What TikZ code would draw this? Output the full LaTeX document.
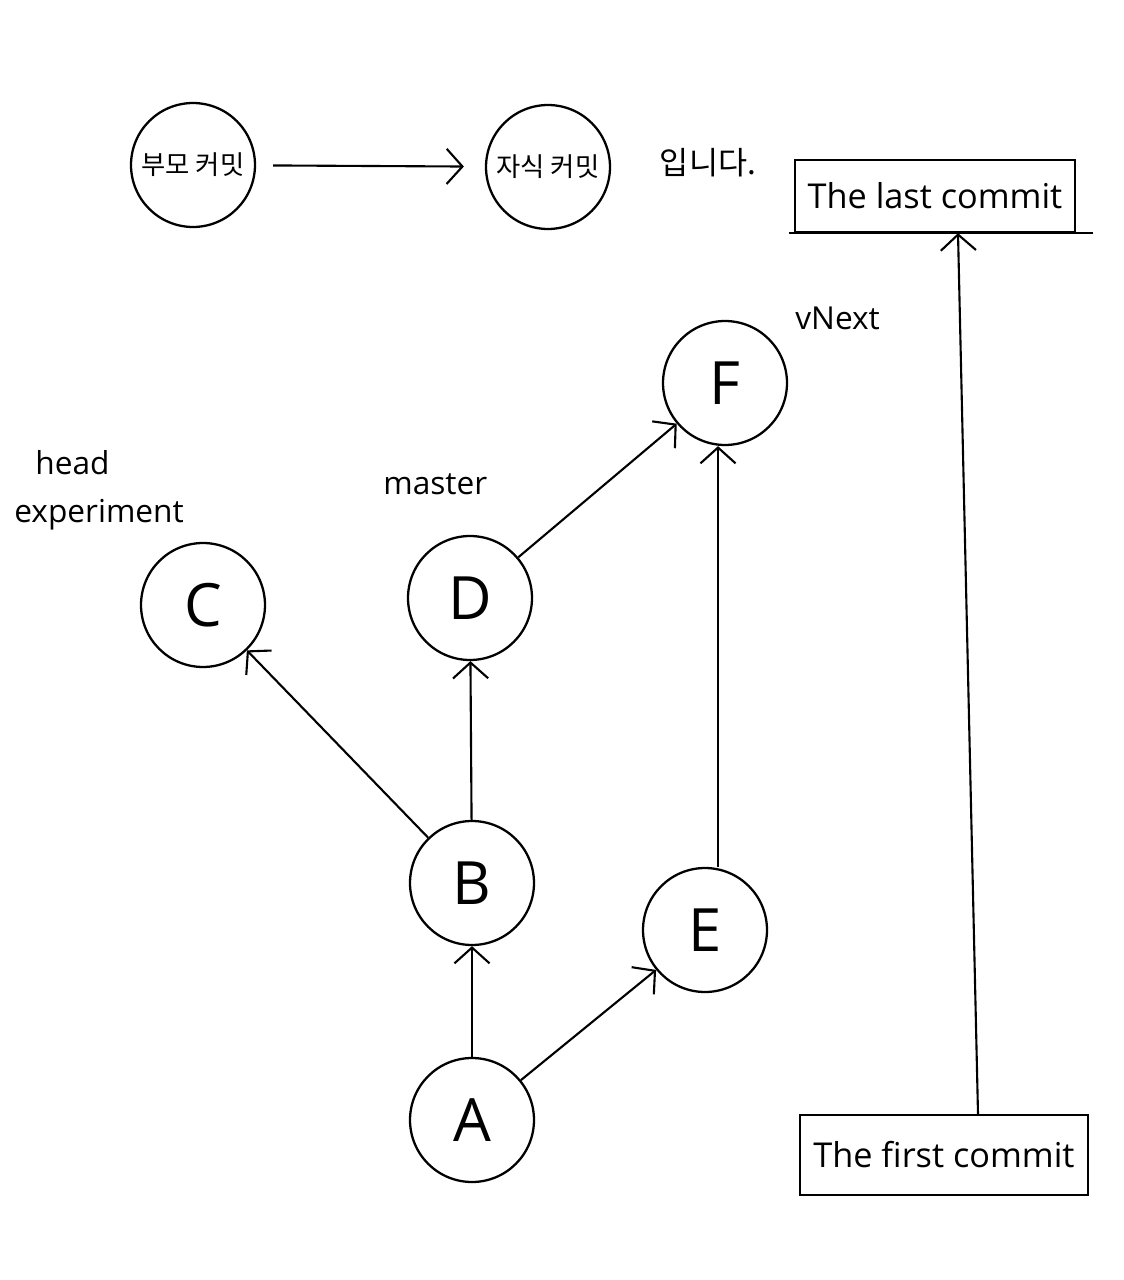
\documentclass[tikz,border=0pt]{standalone}
\usepackage{fontspec}
\setmainfont{Open Sans}
\newfontfamily\kor{Noto Sans CJK KR}
\usetikzlibrary{arrows.meta}
\tikzset{
  commit/.style={circle, draw, line width=1.3pt, minimum size=2.48cm, inner sep=0pt, font=\fontsize{34}{40}\selectfont},
  kcommit/.style={commit, font=\kor\fontsize{15}{18}\selectfont},
  tag/.style={font=\fontsize{18}{22}\selectfont, align=left, inner sep=0pt},
  endbox/.style={draw, line width=1.3pt, inner sep=0pt, font=\fontsize{19.5}{24}\selectfont},
  edge/.style={line width=1.2pt, -{Straight Barb[length=9pt,width=20pt]}}
}

\begin{document}
\begin{tikzpicture}[x=0.02cm, y=-0.02cm]

\useasboundingbox (0,0) rectangle (1124,1280);

% legend
\node [kcommit] (parent) at (193,165) {부모 커밋};
\node [kcommit] (child) at (548,167) {자식 커밋};
\node [tag, font=\kor\fontsize{18}{22}\selectfont] (is) at (708,163) {입니다.};
\draw [edge, shorten <=0.34cm, shorten >=0.42cm] (parent) -- (child);

% commits
\node [commit] (a) at (472,1120) {A};
\node [commit] (b) at (472,883) {B};
\node [commit] (c) at (203,605) {C};
\node [commit] (d) at (470,598) {D};
\node [commit] (e) at (705,930) {E};
\node [commit] (f) at (725,383) {F};

% labels
\node [tag, anchor=west] (head) at (35,463) {head};
\node [tag, anchor=west] (experiment) at (14,515) {experiment};
\node [tag, anchor=west] (master) at (383,484) {master};
\node [tag, anchor=west] (vnext) at (795,318) {vNext};

\draw [edge] (a) -- (b);
\draw [edge] (a) -- (e);
\draw [edge] (b) -- (c);
\draw [edge] (b) -- (d);
\draw [edge] (d) -- (f);
\draw [edge] ([xshift=0.26cm]e.north) -- ([xshift=0.26cm]e.north |- f.south);

% time line
\node [endbox, minimum width=5.6cm, minimum height=1.44cm] (last) at (935,196) {The last commit};
\node [endbox, minimum width=5.76cm, minimum height=1.6cm] (first) at (944,1155) {The first commit};
\draw [line width=1.3pt] ([xshift=-0.1cm]last.south west) -- ([xshift=0.34cm]last.south east);
\draw [edge] ([xshift=0.68cm]first.north) -- ([xshift=0.46cm]last.south);

\end{tikzpicture}
\end{document}
